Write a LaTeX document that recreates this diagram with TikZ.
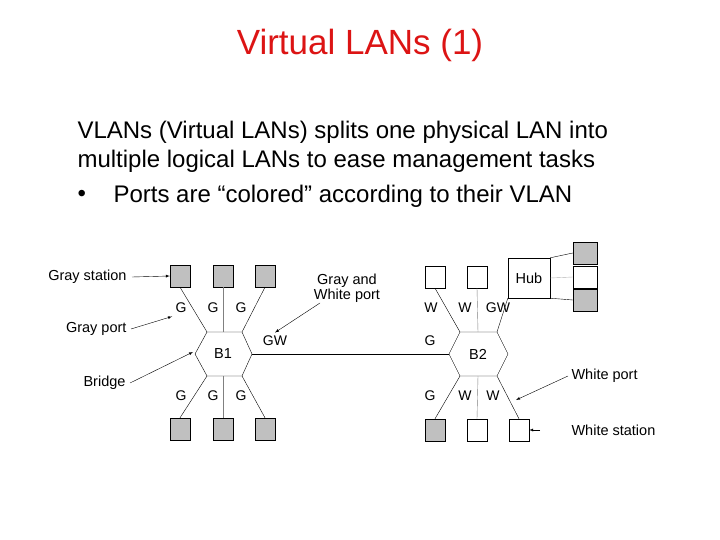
\documentclass[tikz,border=0pt]{standalone}
\usepackage{fontspec}
\setmainfont{Liberation Sans}
\usetikzlibrary{positioning}
\definecolor{titlered}{RGB}{220,20,20}
\definecolor{stagray}{RGB}{192,192,192}
\tikzset{
	gsta/.style={draw,fill=stagray,minimum width=20pt,minimum height=22pt,inner sep=0pt},
	wsta/.style={draw,fill=white,minimum width=20pt,minimum height=22pt,inner sep=0pt},
	port/.style={font=\fontsize{14}{15}\selectfont},
	lbl/.style={font=\fontsize{14.5}{15}\selectfont},
	body/.style={anchor=west,font=\fontsize{24}{28}\selectfont},
	callout/.style={-latex,thin}
}
\begin{document}
\begin{tikzpicture}[x=1pt,y=-1pt]
\useasboundingbox (0,0) rectangle (720,540);

%% Title and text
\node[titlered,font=\fontsize{35}{40}\selectfont] (title) at (360,45) {Virtual LANs (1)};
\node[body] (line1) at (74,132) {VLANs (Virtual LANs) splits one physical LAN into};
\node[body] (line2) at (74,161) {multiple logical LANs to ease management tasks};
\node[body] (bul) at (74,196) {\textbullet};
\node[body] (line3) at (110,196) {Ports are “colored” according to their VLAN};

%% Bridge B1
\draw (195,354) -- (207,332) -- (242,332) -- (252,354) -- (242,376) -- (207,376) -- cycle;
\node[lbl] (b1) at (223,354) {B1};
\coordinate (b1tl) at (207,332); \coordinate (b1tr) at (242,332);
\coordinate (b1bl) at (207,376); \coordinate (b1br) at (242,376);
\coordinate (b1r) at (252,354);

% stations of B1
\node[gsta] (s1) at (180,276) {};
\node[gsta] (s2) at (223,276) {};
\node[gsta] (s3) at (265,276) {};
\node[gsta] (s4) at (180,429) {};
\node[gsta] (s5) at (223,429) {};
\node[gsta] (s6) at (265,429) {};
\draw (b1tl) -- (s1.south);
\draw[gray] (223,332) -- (s2.south);
\draw (b1tr) -- (s3.south);
\draw (b1bl) -- (s4.north);
\draw[gray] (223,376) -- (s5.north);
\draw (b1br) -- (s6.north);
\node[port] (p1) at (181,308) {G};
\node[port] (p2) at (213,308) {G};
\node[port] (p3) at (241,308) {G};
\node[port] (p4) at (181,396) {G};
\node[port] (p5) at (213,396) {G};
\node[port] (p6) at (241,396) {G};
\node[port] (pgw) at (275,341) {GW};

%% Bridge B2
\draw (449,354) -- (460,332) -- (497,332) -- (508,354) -- (497,376) -- (460,376) -- cycle;
\node[lbl] (b2) at (478,354) {B2};
\coordinate (b2tl) at (460,332); \coordinate (b2tr) at (497,332);
\coordinate (b2bl) at (460,376); \coordinate (b2br) at (497,376);
\coordinate (b2l) at (449,354);
\draw (b1r) -- (b2l);

% stations of B2
\node[wsta] (t1) at (435,277) {};
\node[wsta] (t2) at (477,277) {};
\node[draw,minimum width=42pt,minimum height=40pt,inner sep=0pt] (hub) at (529,278) {};
\node[lbl] at (hub) {Hub};
\node[gsta,minimum width=24pt] (h1) at (585,253) {};
\node[wsta,minimum width=24pt] (h2) at (585,277) {};
\node[gsta,minimum width=24pt] (h3) at (585,300) {};
\draw (hub.north east) -- (h1.west);
\draw[gray!60] (hub.east) -- (h2.west);
\draw (hub.south east) -- (h3.west);
\node[gsta] (t4) at (435,430) {};
\node[wsta] (t5) at (477,430) {};
\node[wsta] (t6) at (519,430) {};
\draw (b2tl) -- (t1.south);
\draw[gray] (478,332) -- (t2.south);
\draw (b2tr) -- (hub.south west);
\draw (b2bl) -- (t4.north);
\draw[gray] (478,376) -- (t5.north);
\draw (b2br) -- (t6.north);
\node[port] (q1) at (431,308) {W};
\node[port] (q2) at (465,308) {W};
\node[port] (q3) at (498,308) {GW};
\node[port] (q4) at (430,341) {G};
\node[port] (q5) at (430,396) {G};
\node[port] (q6) at (465,396) {W};
\node[port] (q7) at (493,396) {W};

%% Callouts
\node[lbl,anchor=east] (gs) at (130,277) {Gray station};
\draw[callout] (gs.east) ++(2,0) -- (s1.west);
\node[lbl,anchor=east] (gp) at (130,329) {Gray port};
\draw[callout] (gp.east) ++(1,0) -- (p1.south west);
\node[lbl,anchor=east] (br) at (129,383) {Bridge};
\draw[callout] (br.east) ++(1,0) -- (193,352);
\node[lbl,align=center] (gwp) at (347,288) {Gray and\\White port};
\draw[callout] (320,303) -- (pgw.north);
\node[lbl,anchor=west] (wp) at (568,376) {White port};
\draw[callout] (wp.west) -- (516,400);
\node[lbl,anchor=west] (ws) at (568,430) {White station};
\coordinate (wsa) at (540,430);
\draw[callout] (wsa) -- (t6.east);
\end{tikzpicture}
\end{document}
